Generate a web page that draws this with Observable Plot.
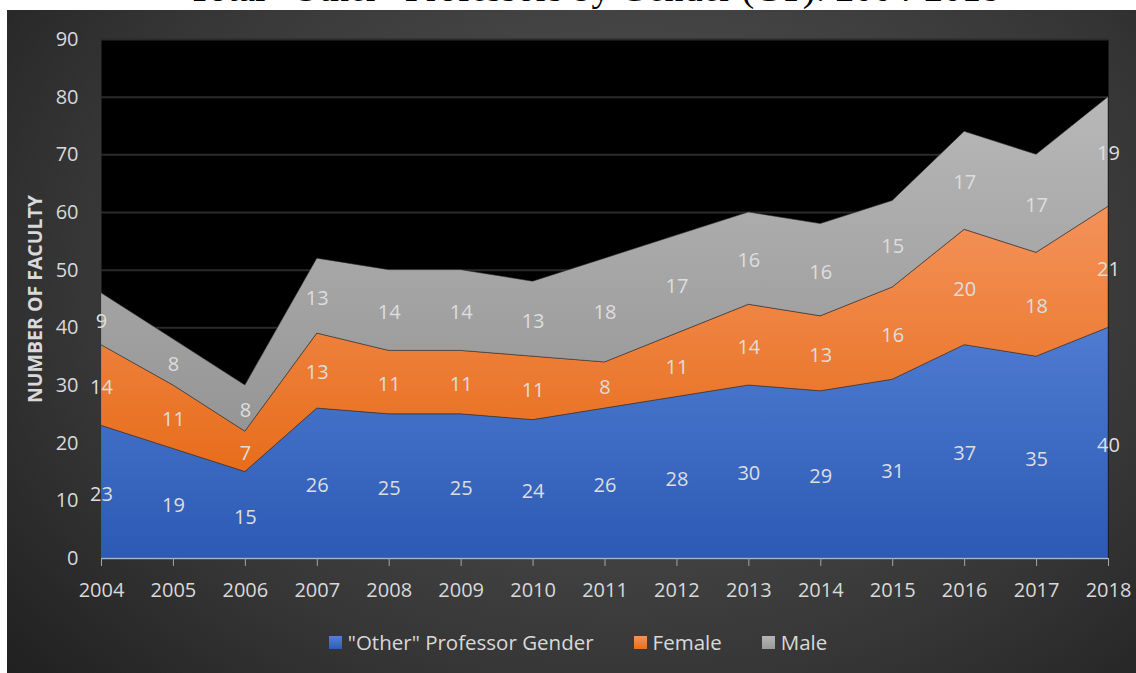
<!DOCTYPE html>
<html>
<head>
<meta charset="utf-8">
<script src="https://cdn.jsdelivr.net/npm/d3@7"></script>
<script src="https://cdn.jsdelivr.net/npm/@observablehq/plot@0.6"></script>
<style>
  html, body { margin: 0; padding: 0; background: #fff; }
  #root { position: relative; width: 1136px; height: 673px; overflow: hidden; background: #fff; font-family: 'Open Sans', sans-serif; }
  #panel { position: absolute; left: 7px; top: 10px; right: 0; bottom: 0;
    background: radial-gradient(ellipse 75% 95% at 55% 40%, #4b4b4b 0%, #464646 35%, #363636 65%, #262626 88%, #1e1e1e 100%); }
  #title { position: absolute; left: 0; top: 0; width: 1136px; height: 10px; overflow: hidden; }
  #title span { position: absolute; left: 594px; top: -31.5px; transform: translateX(-50%); white-space: nowrap;
    font-family: 'Liberation Serif', serif; font-size: 38px; color: #000; line-height: 38px; }
  #chart { position: absolute; left: 0; top: 0; }
  #ylabel { position: absolute; left: 34px; top: 299px; transform: translate(-50%, -50%) rotate(-90deg);
    white-space: nowrap; color: #d9d9d9; font-weight: 700; font-size: 19.5px; letter-spacing: 0px; }
  #legend { position: absolute; left: 20px; width: 1116px; top: 628px; display: flex; justify-content: center; gap: 40px;
    color: #d9d9d9; font-size: 20.5px; }
  #legend .item { display: flex; align-items: center; gap: 6px; }
  #legend .sw { width: 13px; height: 13px; display: inline-block; }
</style>
</head>
<body>
<div id="root">
  <div id="panel"></div>
  <div id="title"><span>Total “Other” Professors by Gender (CT): 2004-2018</span></div>
  <div id="chart"></div>
  <div id="ylabel">NUMBER OF FACULTY</div>
  <div id="legend"></div>
</div>
<script>
const years = [2004, 2005, 2006, 2007, 2008, 2009, 2010, 2011, 2012, 2013, 2014, 2015, 2016, 2017, 2018];
const otherGender = [23, 19, 15, 26, 25, 25, 24, 26, 28, 30, 29, 31, 37, 35, 40];
const female = [14, 11, 7, 13, 11, 11, 11, 8, 11, 14, 13, 16, 20, 18, 21];
const male = [9, 8, 8, 13, 14, 14, 13, 18, 17, 16, 16, 15, 17, 17, 19];
const seriesNames = ['"Other" Professor Gender', "Female", "Male"];
const yTicks = [0, 10, 20, 30, 40, 50, 60, 70, 80, 90];
const seriesColors = ["url(#gBlue)", "url(#gOrange)", "url(#gGray)"];
const legendSwatch = ["linear-gradient(#5580d3,#2f5db6)", "linear-gradient(#f4935a,#e86f1d)", "linear-gradient(#b5b5b5,#999)"];

const valuesBySeries = [otherGender, female, male];
const rows = [];
seriesNames.forEach((s, i) => years.forEach((y, j) => rows.push({series: s, year: y, value: valuesBySeries[i][j]})));

const stackOpts = {x: "year", y: "value", z: "series", order: seriesNames};

const chart = Plot.plot({
  width: 1136,
  height: 673,
  marginLeft: 101,
  marginRight: 28,
  marginTop: 39,
  marginBottom: 115,
  style: {background: "transparent", fontFamily: "'Open Sans', sans-serif", fontSize: "20px", color: "#d9d9d9"},
  x: {domain: [2004, 2018]},
  y: {domain: [0, 90]},
  color: {domain: seriesNames, range: seriesColors},
  marks: [
    Plot.frame({fill: "#000", stroke: "none"}),
    Plot.gridY(yTicks, {stroke: "#2b2b2b", strokeOpacity: 1, strokeWidth: 2}),
    Plot.areaY(rows, {...stackOpts, fill: "series", stroke: "rgba(50,50,50,0.7)", strokeWidth: 0.8}),
    Plot.ruleY([0], {stroke: "#a9b6cf", strokeWidth: 1.5}),
    Plot.text(rows, Plot.stackY({...stackOpts, text: d => String(d.value), fill: "#dedede", fontSize: 20, dy: 2})),
    Plot.axisX({ticks: years, tickFormat: d => String(d), tickSize: 8, tickPadding: 16, stroke: "#a6a6a6", fill: "#d9d9d9", fontSize: 20, label: null}),
    Plot.axisY({ticks: yTicks, tickSize: 0, tickPadding: 23, fill: "#d9d9d9", fontSize: 20, label: null})
  ]
});

// gradient definitions
const ns = "http://www.w3.org/2000/svg";
const defs = document.createElementNS(ns, "defs");
const grads = [["gBlue", "#4f7cd1", "#2c5ab4"], ["gOrange", "#f4925a", "#e76d1b"], ["gGray", "#b8b8b8", "#959595"]];
grads.forEach(([id, c1, c2]) => {
  const g = document.createElementNS(ns, "linearGradient");
  g.setAttribute("id", id);
  g.setAttribute("x1", "0"); g.setAttribute("y1", "0"); g.setAttribute("x2", "0"); g.setAttribute("y2", "1");
  [[0, c1], [1, c2]].forEach(([o, c]) => {
    const s = document.createElementNS(ns, "stop");
    s.setAttribute("offset", o); s.setAttribute("stop-color", c);
    g.appendChild(s);
  });
  defs.appendChild(g);
});
chart.insertBefore(defs, chart.firstChild);
document.getElementById("chart").appendChild(chart);

const legend = document.getElementById("legend");
seriesNames.forEach((s, i) => {
  const it = document.createElement("div");
  it.className = "item";
  const sw = document.createElement("span");
  sw.className = "sw";
  sw.style.background = legendSwatch[i];
  const t = document.createElement("span");
  t.textContent = s;
  it.appendChild(sw); it.appendChild(t);
  legend.appendChild(it);
});
</script>
</body>
</html>
